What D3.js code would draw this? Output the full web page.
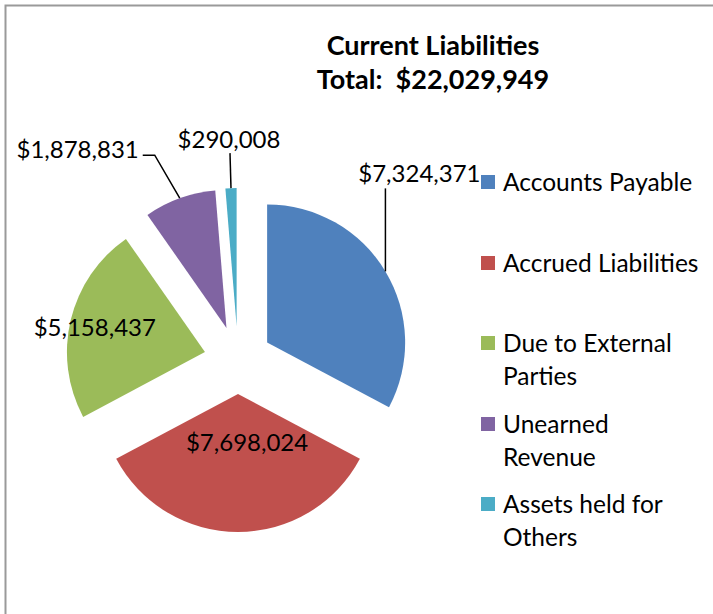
<!DOCTYPE html>
<html>
<head>
<meta charset="utf-8">
<script src="https://cdn.jsdelivr.net/npm/d3@7/dist/d3.min.js"></script>
<style>
  html, body { margin: 0; padding: 0; background: #fff; }
  svg { display: block; }
  text { font-family: Lato, "Open Sans", sans-serif; fill: #000; }
</style>
</head>
<body>
<script>
// ---- data ----
const categories = ["Accounts Payable", "Accrued Liabilities", "Due to External Parties", "Unearned Revenue", "Assets held for Others"];
const legendLines = [["Accounts Payable"], ["Accrued Liabilities"], ["Due to External", "Parties"], ["Unearned", "Revenue"], ["Assets held for", "Others"]];
const values = [7324371, 7698024, 5158437, 1878831, 290008];
const valueLabels = ["$7,324,371", "$7,698,024", "$5,158,437", "$1,878,831", "$290,008"];
const colors = ["#4F81BD", "#C0504D", "#9BBB59", "#8064A2", "#4BACC6"];
const titleLines = ["Current Liabilities", "Total:\u00A0 $22,029,949"];

// ---- layout ----
const W = 713, H = 614;
const cx = 238, cy = 360, R = 138, explode = 34;
// label placement relative to the mid-arc point of each slice (leader: list of points relative to that point)
const labelLayout = [
  { text: [34, -98], anchor: "middle", leader: [[0, 0], [0, -83]] },
  { text: [9, -89], anchor: "middle", leader: null },
  { text: [24, 8], anchor: "middle", leader: null },
  { text: [-41, -49], anchor: "end", leader: [[0, 0], [-25, -43], [-37, -43]] },
  { text: [-2, -49], anchor: "middle", leader: [[0, 0], [-1, -35]] }
];

const svg = d3.select("body").append("svg").attr("width", W).attr("height", H);

// frame
svg.append("rect").attr("x", 5.5).attr("y", 5.5).attr("width", W + 20).attr("height", H + 20)
  .attr("fill", "#fff").attr("stroke", "#9a9a9a").attr("stroke-width", 2);

// title
titleLines.forEach((t, i) => {
  svg.append("text").attr("x", 433).attr("y", 46 + i * 34).attr("dy", "0.35em")
    .attr("text-anchor", "middle").attr("font-weight", "bold").attr("font-size", 27)
    .text(t);
});

// pie
const pie = d3.pie().sort(null).value(d => d)(values);
const arc = d3.arc().innerRadius(0).outerRadius(R);

const g = svg.append("g").attr("transform", `translate(${cx},${cy})`);

pie.forEach((p, i) => {
  const mid = (p.startAngle + p.endAngle) / 2;
  const ox = explode * Math.sin(mid), oy = -explode * Math.cos(mid);
  const sg = g.append("g").attr("transform", `translate(${ox},${oy})`);
  sg.append("path").attr("d", arc(p)).attr("fill", colors[i]);

  const mx = ox + R * Math.sin(mid), my = oy - R * Math.cos(mid);
  const L = labelLayout[i];
  if (L.leader) {
    g.append("polyline")
      .attr("points", L.leader.map(q => `${mx + q[0]},${my + q[1]}`).join(" "))
      .attr("fill", "none").attr("stroke", "#000").attr("stroke-width", 1.5);
  }
  g.append("text")
    .attr("x", mx + L.text[0]).attr("y", my + L.text[1]).attr("dy", "0.35em")
    .attr("text-anchor", L.anchor).attr("font-size", 24)
    .text(valueLabels[i]);
});

// legend
const legendY = [182, 263, 343, 424, 504];
const lg = svg.append("g");
categories.forEach((c, i) => {
  lg.append("rect").attr("x", 481).attr("y", legendY[i] - 7).attr("width", 14).attr("height", 14)
    .attr("fill", colors[i]);
  legendLines[i].forEach((t, j) => {
    lg.append("text").attr("x", 503).attr("y", legendY[i] + j * 33).attr("dy", "0.35em")
      .attr("font-size", 24.5).text(t);
  });
});
</script>
</body>
</html>
